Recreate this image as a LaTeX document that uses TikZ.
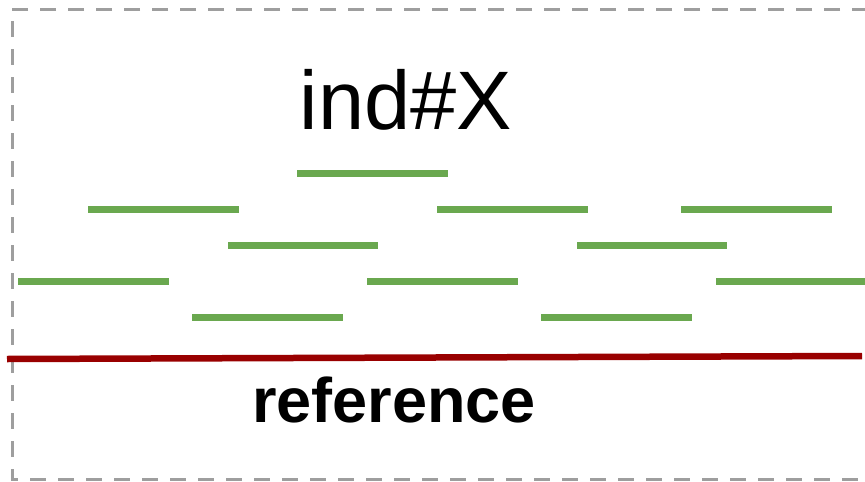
\documentclass[tikz,border=0pt]{standalone}
\usepackage{fontspec}
\setmainfont{Liberation Sans}
\definecolor{segGreen}{HTML}{6AA84F}
\definecolor{refRed}{HTML}{990000}
\definecolor{frameGray}{HTML}{9E9E9E}
\begin{document}
\begin{tikzpicture}[x=1pt,y=-1pt,
  seg/.style={draw=segGreen,line width=7pt},
  refline/.style={draw=refRed,line width=6.5pt},
  frame/.style={draw=frameGray,line width=3pt,dash pattern=on 16pt off 12pt},
  lbl/.style={inner sep=0pt,anchor=base,text=black}]
\useasboundingbox (0,0) rectangle (865,482);
\fill[white] (0,0) rectangle (865,482);
\draw[frame] (868,9) -- (12,9) -- (12,479) -- (868,479);
\node[lbl,font=\fontsize{83}{90}\selectfont] (title) at (406,129) {ind\#X};
\draw[seg] (297,173) -- (448,173);
\draw[seg] (88,209) -- (239,209);
\draw[seg] (437,209) -- (588,209);
\draw[seg] (681,209) -- (832,209);
\draw[seg] (228,245) -- (378,245);
\draw[seg] (577,245) -- (727,245);
\draw[seg] (18,281) -- (169,281);
\draw[seg] (367,281) -- (518,281);
\draw[seg] (716,281) -- (867,281);
\draw[seg] (192,317) -- (343,317);
\draw[seg] (541,317) -- (692,317);
\draw[refline] (7,359) -- (862,356);
\node[lbl,font=\fontsize{63}{72}\selectfont\bfseries] (ref) at (394,422) {reference};
\end{tikzpicture}
\end{document}
